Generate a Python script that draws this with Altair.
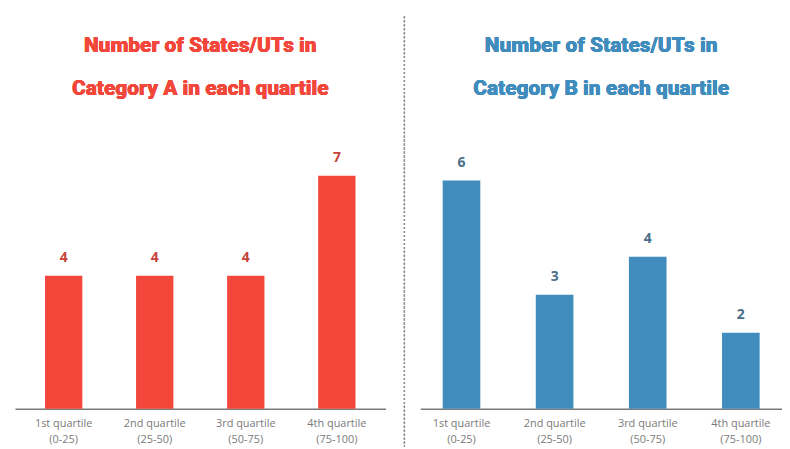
import altair as alt
import pandas as pd

quartile_names = ["1st quartile", "2nd quartile", "3rd quartile", "4th quartile"]
quartile_ranges = ["(0-25)", "(25-50)", "(50-75)", "(75-100)"]
count_a = [4, 4, 4, 7]
count_b = [6, 3, 4, 2]

title_a = ["Number of States/UTs in", "Category A in each quartile"]
title_b = ["Number of States/UTs in", "Category B in each quartile"]

cats = [f"{n} {r}" for n, r in zip(quartile_names, quartile_ranges)]
df_a = pd.DataFrame({"q": cats, "v": count_a})
df_b = pd.DataFrame({"q": cats, "v": count_b})

RED = "#f2473a"
BLUE = "#3f8cbd"
TITLE_FONT = "Roboto"
H = 268

label_expr = "[slice(datum.label, 0, indexof(datum.label, ' (')), slice(datum.label, indexof(datum.label, ' (') + 1)]"


def panel(df, color, label_color, title, ymax, width, pin, pout, with_divider=False):
    x = alt.X(
        "q:N",
        sort=cats,
        scale=alt.Scale(paddingInner=pin, paddingOuter=pout),
        axis=alt.Axis(
            title=None,
            labelAngle=0,
            ticks=False,
            domainColor="#7a7a7a",
            domainWidth=1.5,
            labelColor="#7a7a7a",
            labelFontSize=11,
            labelFont="Open Sans",
            labelPadding=9,
            labelLineHeight=16,
            labelExpr=label_expr,
        ),
    )
    y = alt.Y("v:Q", scale=alt.Scale(domain=[0, ymax]), axis=None)
    base = alt.Chart(df)
    bars = base.mark_bar(color=color).encode(x=x, y=y)
    text = base.mark_text(
        dy=-14, baseline="alphabetic", fontSize=14, fontWeight="bold",
        font="Open Sans", color=label_color,
    ).encode(x=x, y=y, text="v:Q")
    t1 = base.mark_text(
        font=TITLE_FONT, fontSize=21, fontWeight=900, color=color,
        baseline="middle", align="center", text=title[0],
    ).encode(x=alt.value(width / 2), y=alt.value(-97))
    t2 = base.mark_text(
        font=TITLE_FONT, fontSize=21, fontWeight=900, color=color,
        baseline="middle", align="center", text=title[1],
    ).encode(x=alt.value(width / 2), y=alt.value(-54))
    layers = [bars, text, t1, t2]
    if with_divider:
        div = base.mark_rule(
            color="#8a8a8a", strokeDash=[2, 2], strokeWidth=1.2
        ).encode(x=alt.value(-16), y=alt.value(-127), y2=alt.value(H + 38))
        layers = [div] + layers
    return alt.layer(*layers).properties(width=width, height=H)


left = panel(df_a, RED, "#c4443a", title_a, 8, 373, 0.59, 0.33)
right = panel(df_b, BLUE, "#4a6f8a", title_b, 7, 364, 0.596, 0.24, with_divider=True)

chart = alt.hconcat(left, right, spacing=18).properties(
    padding={"left": 7, "top": 6, "right": 0, "bottom": 0}
).configure(background="white").configure_view(strokeWidth=0, stroke="transparent")

chart.save("out.html", embed_options={"renderer": "svg", "actions": False})
